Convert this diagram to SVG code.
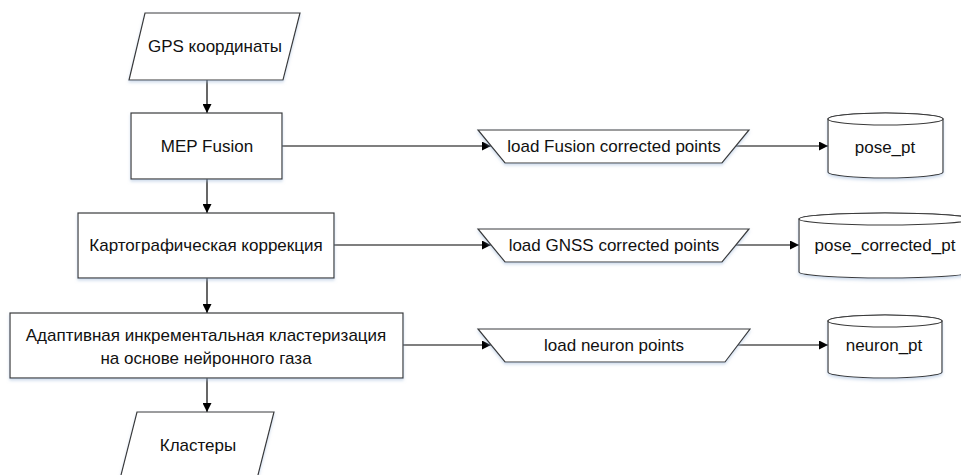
<svg xmlns="http://www.w3.org/2000/svg" width="961" height="475" viewBox="0 0 961 475">
<style>
.s{fill:#fff;stroke:#3a3a3a;stroke-width:1.2}
.t{font-family:"Liberation Sans",Arial,sans-serif;font-size:17px;fill:#111;text-anchor:middle;dominant-baseline:central}
.c{stroke:#000;stroke-width:1.2;fill:none;marker-end:url(#ah)}
.sh{filter:url(#shadow)}
</style>
<defs>
<marker id="ah" viewBox="0 0 10 10" refX="10" refY="5" markerWidth="9" markerHeight="9" markerUnits="userSpaceOnUse" orient="auto">
<path d="M0,0 L10,5 L0,10 Z" fill="#000"/>
</marker>
<filter id="shadow" x="-10%" y="-10%" width="120%" height="130%">
<feDropShadow dx="0" dy="2" stdDeviation="1.5" flood-color="#9fb8d8" flood-opacity="0.5"/>
</filter>
</defs>
<rect width="961" height="475" fill="#fff"/>
<g id="connectors">
<line class="c" x1="207" y1="80" x2="207" y2="113"/>
<line class="c" x1="207" y1="179" x2="207" y2="213"/>
<line class="c" x1="207" y1="278" x2="207" y2="313"/>
<line class="c" x1="207" y1="378" x2="207" y2="412"/>
<line class="c" x1="282" y1="146" x2="491" y2="146"/>
<line class="c" x1="736" y1="146" x2="828" y2="146"/>
<line class="c" x1="334" y1="245" x2="491" y2="245"/>
<line class="c" x1="736" y1="245" x2="799" y2="245"/>
<line class="c" x1="403" y1="345" x2="491" y2="345"/>
<line class="c" x1="737" y1="345" x2="828" y2="345"/>
</g>
<g id="gps">
<polygon class="s sh" points="145,13 300,13 283,80 129,80"/>
<text class="t" x="215" y="46">GPS координаты</text>
</g>
<g id="mep">
<rect class="s sh" x="131" y="113" width="151" height="66"/>
<text class="t" x="207" y="146">MEP Fusion</text>
</g>
<g id="carto">
<rect class="s sh" x="78" y="213" width="256" height="65"/>
<text class="t" x="206" y="245">Картографическая коррекция</text>
</g>
<g id="adapt">
<rect class="s sh" x="10" y="313" width="393" height="65"/>
<text class="t" x="206" y="335">Адаптивная инкрементальная кластеризация</text>
<text class="t" x="206" y="358">на основе нейронного газа</text>
</g>
<g id="clusters">
<polygon class="s sh" points="137,412 274,412 257,479 120,479"/>
<text class="t" x="198" y="445">Кластеры</text>
</g>
<g id="load1">
<polygon class="s sh" points="478,130 749,130 722,163 505,163"/>
<text class="t" x="614" y="146">load Fusion corrected points</text>
</g>
<g id="load2">
<polygon class="s sh" points="478,229 749,229 722,262 505,262"/>
<text class="t" x="614" y="245">load GNSS corrected points</text>
</g>
<g id="load3">
<polygon class="s sh" points="478,329 750,329 725,362 505,362"/>
<text class="t" x="614" y="345">load neuron points</text>
</g>
<g id="pose_pt">
<path class="s sh" d="M828,119 L828,172 A57.5,6 0 0 0 943,172 L943,119 A57.5,6 0 0 0 828,119 Z"/>
<ellipse class="s" cx="885.5" cy="119" rx="57.5" ry="6"/>
<text class="t" x="885" y="147">pose_pt</text>
</g>
<g id="pose_corrected_pt">
<path class="s sh" d="M799,219 L799,272 A86,6 0 0 0 971,272 L971,219 A86,6 0 0 0 799,219 Z"/>
<ellipse class="s" cx="885" cy="219" rx="86" ry="6"/>
<text class="t" x="885" y="245">pose_corrected_pt</text>
</g>
<g id="neuron_pt">
<path class="s sh" d="M828,321 L828,372 A57,6 0 0 0 942,372 L942,321 A57,6 0 0 0 828,321 Z"/>
<ellipse class="s" cx="885" cy="321" rx="57" ry="6"/>
<text class="t" x="884" y="345">neuron_pt</text>
</g>
</svg>
